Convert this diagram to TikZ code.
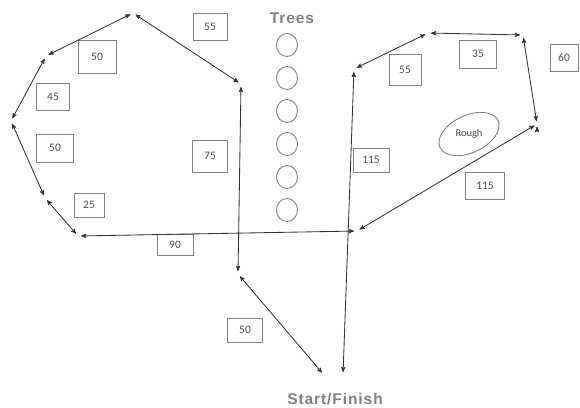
\documentclass[tikz,border=0pt]{standalone}
\usepackage{fontspec}
\setmainfont{Carlito}
\newfontfamily\titlefont[LetterSpace=6]{Liberation Sans}
\usetikzlibrary{arrows,shapes.geometric}

\begin{document}
\begin{tikzpicture}[x=1pt,y=-1pt,>=stealth',node distance=33pt,
    route/.style={<->,draw=black!80,line width=0.85pt,shorten >=3pt,shorten <=3pt},
    dist/.style={draw=black!50,line width=0.8pt,text=black!70,font=\fontsize{11.5}{12}\selectfont,
        minimum width=34pt,minimum height=27pt,inner sep=1pt},
    tree/.style={ellipse,draw=black!50,line width=0.9pt,minimum width=21pt,minimum height=23pt,inner sep=0pt},
    title/.style={text=black!50,font=\fontsize{15.5}{16}\selectfont\titlefont\bfseries}]

\useasboundingbox (0,0) rectangle (580,407);

% corners of the course
\coordinate (top) at (133,13);
\coordinate (nw) at (46,56);
\coordinate (w) at (11,121);
\coordinate (sw) at (45,198);
\coordinate (bl) at (78,236);
\coordinate (ne) at (241,84);
\coordinate (vbot) at (238,274);
\coordinate (fin1) at (324,375);
\coordinate (fin2) at (343,375);
\coordinate (rv) at (354,69);
\coordinate (rt1) at (428,33);
\coordinate (rt2) at (523,35);
\coordinate (re) at (537,124);
\coordinate (br) at (357,231);

% trees
\node[title] (trees) at (292,18) {Trees};
\node[tree] (t1) at (287,45) {};
\node[tree] (t2) [below of=t1] {};
\node[tree] (t3) [below of=t2] {};
\node[tree] (t4) [below of=t3] {};
\node[tree] (t5) [below of=t4] {};
\node[tree] (t6) [below of=t5] {};

% distances
\node[dist] (l55) at (210,27) {55};
\node[dist,minimum width=38pt,minimum height=33pt] (l50a) at (97,57) {50};
\node[dist,minimum width=33pt,minimum height=27pt] (l45) at (53,97) {45};
\node[dist,minimum width=37pt,minimum height=28pt] (l50b) at (55,148) {50};
\node[dist,minimum width=35pt,minimum height=32pt] (l75) at (210,156) {75};
\node[dist,minimum width=30pt,minimum height=24pt] (l25) at (89,205) {25};
\node[dist,minimum width=36pt,minimum height=21pt] (l90) at (175,245) {90};
\node[dist,minimum width=35pt,minimum height=24pt] (l50c) at (245,330) {50};
\node[dist,minimum width=32pt,minimum height=31pt] (r55) at (405,70) {55};
\node[dist,minimum width=37pt,minimum height=28pt] (r35) at (478,54) {35};
\node[dist,minimum width=28pt,minimum height=27pt] (r60) at (564,58) {60};
\node[dist,minimum width=36pt,minimum height=24pt] (r115a) at (371,160) {115};
\node[dist,minimum width=39pt,minimum height=27pt] (r115b) at (485,186) {115};

\node[ellipse,draw=black!50,line width=0.9pt,minimum width=64pt,minimum height=37pt,rotate=25,
    text=black!70,font=\fontsize{10.5}{11}\selectfont] (rough) at (469,134) {\rotatebox{-25}{Rough}};

\node[title] (start) at (335,399) {Start/Finish};

\path[route]
(top) edge (nw)
(nw) edge (w)
(w) edge (sw)
(sw) edge (bl)
(bl) edge (br)
(top) edge (ne)
(ne) edge (vbot)
(vbot) edge (fin1)
(fin2) edge (rv)
(rv) edge (rt1)
(rt1) edge (rt2)
(rt2) edge (re)
(re) edge (br)
;

\end{tikzpicture}
\end{document}
